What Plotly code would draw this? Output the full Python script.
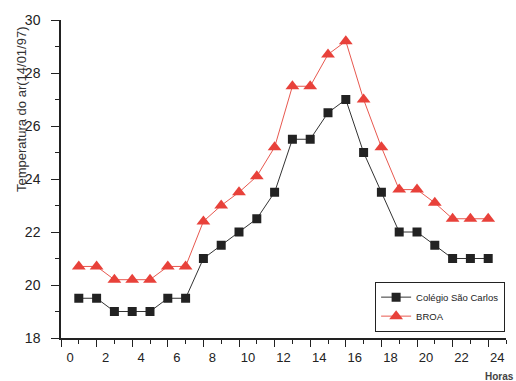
import plotly.graph_objects as go

hours = list(range(1, 25))
colegio = [19.5, 19.5, 19.0, 19.0, 19.0, 19.5, 19.5, 21.0, 21.5, 22.0, 22.5, 23.5,
           25.5, 25.5, 26.5, 27.0, 25.0, 23.5, 22.0, 22.0, 21.5, 21.0, 21.0, 21.0]
broa = [20.7, 20.7, 20.2, 20.2, 20.2, 20.7, 20.7, 22.4, 23.0, 23.5, 24.1, 25.2,
        27.5, 27.5, 28.7, 29.2, 27.0, 25.2, 23.6, 23.6, 23.1, 22.5, 22.5, 22.5]
x_ticks = list(range(0, 25, 2))
y_ticks = list(range(18, 31, 2))

fig = go.Figure()
fig.add_trace(go.Scatter(
    x=hours, y=colegio, mode="lines+markers", name="Colégio São Carlos",
    line=dict(color="#333333", width=1),
    marker=dict(symbol="square", size=9, color="#222222"),
))
fig.add_trace(go.Scatter(
    x=hours, y=broa, mode="lines+markers", name="BROA",
    line=dict(color="#e8584f", width=1),
    marker=dict(symbol="triangle-up", size=12, color="#e8413a"),
))

axis_font = dict(family="Liberation Sans, Arial, sans-serif", size=13, color="#222222")
fig.update_layout(
    width=516, height=381,
    margin=dict(l=61, r=10, t=20, b=43),
    paper_bgcolor="white", plot_bgcolor="white",
    showlegend=True,
    legend=dict(
        x=0.998, y=0.02, xanchor="right", yanchor="bottom",
        bgcolor="white", bordercolor="#222222", borderwidth=1,
        font=dict(family="Liberation Sans, Arial, sans-serif", size=9.5, color="#222222"),
        tracegroupgap=0, itemwidth=30,
    ),
    xaxis=dict(
        range=[0, 25], tickvals=x_ticks, ticktext=[str(v) for v in x_ticks],
        showline=True, linecolor="#222222", linewidth=1.5,
        ticks="outside", ticklen=7, tickcolor="#222222",
        minor=dict(ticks="outside", ticklen=4, dtick=1, tickcolor="#222222"),
        showgrid=False, zeroline=False, tickfont=axis_font,
        ticklabelshift=9,
    ),
    yaxis=dict(
        range=[18, 30], tickvals=y_ticks, ticktext=[str(v) for v in y_ticks],
        showline=True, linecolor="#222222", linewidth=1.5,
        ticks="outside", ticklen=8, tickcolor="#222222",
        minor=dict(ticks="outside", ticklen=4, dtick=1, tickcolor="#222222"),
        showgrid=False, zeroline=False, tickfont=dict(axis_font, size=14),
        ticklabelstandoff=8,
    ),
    annotations=[
        dict(text="Temperatura do ar(14/01/97)", textangle=-90,
             xref="paper", yref="paper", x=-0.09, y=0.72,
             xanchor="center", yanchor="middle",
             showarrow=False, font=dict(family="Liberation Sans, Arial, sans-serif", size=13, color="#333333")),
        dict(text="<b>Horas</b>", xref="paper", yref="paper", x=0.985, y=-0.12,
             xanchor="center", yanchor="middle",
             showarrow=False, font=dict(family="Liberation Sans, Arial, sans-serif", size=10, color="#444444")),
    ],
)

fig.write_html("out.html")
